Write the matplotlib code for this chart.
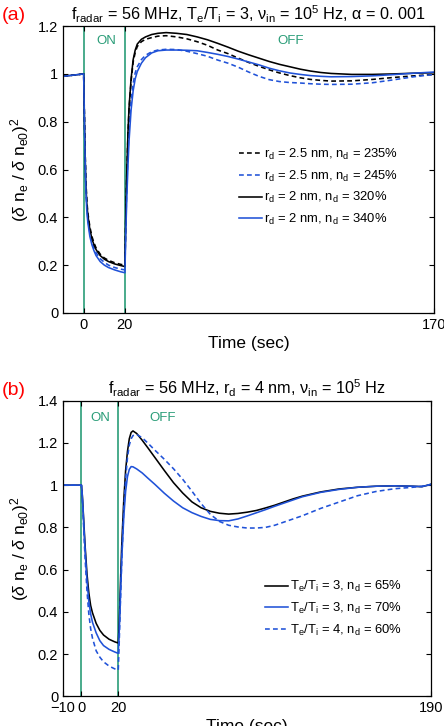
import matplotlib
matplotlib.use("Agg")
import matplotlib.pyplot as plt

plt.rcParams["font.family"] = ["Liberation Sans", "DejaVu Sans"]
plt.rcParams["mathtext.fontset"] = "custom"
plt.rcParams["mathtext.rm"] = "Liberation Sans"
plt.rcParams["mathtext.it"] = "Liberation Sans:italic"

GREEN = "#2a9d78"
BLUE = "#2052d8"

# ---------------------------------------------------------------------------
# Panel (a) data
# ---------------------------------------------------------------------------
t_a = [-10, 0, 0.5, 1, 1.5, 2, 3, 4, 5, 6, 8, 10, 12, 15, 18, 20,
       20.5, 21, 21.5, 22, 23, 24, 25, 26, 28, 30, 33, 36, 40, 45, 50, 55,
       60, 65, 70, 75, 80, 85, 90, 95, 100, 105, 110, 115, 120, 130, 140,
       150, 160, 170]

a_black_dash = [0.99, 1.0, 0.76, 0.57, 0.475, 0.42, 0.36, 0.32, 0.293, 0.272,
                0.246, 0.23, 0.22, 0.21, 0.203, 0.2,
                0.44, 0.61, 0.75, 0.85, 0.97, 1.05, 1.09, 1.115, 1.135, 1.145,
                1.152, 1.158, 1.16, 1.155, 1.147, 1.135, 1.12, 1.1, 1.085,
                1.066, 1.048, 1.032, 1.017, 1.004, 0.993, 0.984, 0.977, 0.973,
                0.97, 0.971, 0.977, 0.985, 0.992, 0.998]

a_blue_dash = [0.99, 1.0, 0.745, 0.55, 0.45, 0.395, 0.335, 0.298, 0.272, 0.252,
               0.227, 0.212, 0.2, 0.19, 0.183, 0.18,
               0.40, 0.55, 0.67, 0.77, 0.89, 0.96, 1.005, 1.03, 1.06, 1.078,
               1.093, 1.1, 1.103, 1.102, 1.095, 1.085, 1.074, 1.058, 1.045,
               1.028, 1.008, 0.99, 0.976, 0.968, 0.964, 0.962, 0.959, 0.957,
               0.956, 0.957, 0.963, 0.975, 0.988, 0.998]

a_black = [0.99, 1.0, 0.75, 0.55, 0.46, 0.41, 0.35, 0.31, 0.285, 0.265,
           0.24, 0.225, 0.215, 0.205, 0.198, 0.194,
           0.45, 0.62, 0.76, 0.86, 0.98, 1.06, 1.10, 1.125, 1.145, 1.155,
           1.165, 1.17, 1.173, 1.17, 1.165, 1.155, 1.143, 1.128, 1.112,
           1.095, 1.08, 1.066, 1.052, 1.04, 1.03, 1.02, 1.012, 1.006,
           1.002, 0.998, 0.998, 1.0, 1.003, 1.005]

a_blue = [0.99, 1.0, 0.73, 0.53, 0.43, 0.38, 0.32, 0.285, 0.26, 0.24,
          0.215, 0.2, 0.19, 0.18, 0.172, 0.168,
          0.36, 0.5, 0.62, 0.72, 0.85, 0.93, 0.98, 1.01, 1.045, 1.068,
          1.088, 1.097, 1.1, 1.1, 1.099, 1.097, 1.09, 1.082, 1.073,
          1.062, 1.05, 1.038, 1.024, 1.013, 1.004, 0.998, 0.993, 0.99,
          0.988, 0.989, 0.992, 0.997, 1.003, 1.008]

# ---------------------------------------------------------------------------
# Panel (b) data
# ---------------------------------------------------------------------------
t_b = [-10, 0, 0.5, 1, 1.5, 2, 3, 4, 5, 6, 8, 10, 12, 15, 18, 20,
       20.5, 21, 21.5, 22, 23, 24, 25, 26, 27, 28, 30, 33, 36, 40, 45, 50,
       55, 60, 65, 70, 75, 80, 85, 90, 95, 100, 105, 110, 115, 120, 130,
       140, 150, 160, 170, 180, 185, 190]

b_black = [1.0, 1.0, 0.95, 0.87, 0.79, 0.71, 0.58, 0.49, 0.43, 0.395,
           0.345, 0.312, 0.29, 0.27, 0.258, 0.252,
           0.34, 0.48, 0.62, 0.74, 0.93, 1.07, 1.16, 1.22, 1.25, 1.257,
           1.245, 1.213, 1.178, 1.13, 1.07, 1.012, 0.963, 0.921, 0.893,
           0.876, 0.867, 0.863, 0.866, 0.872, 0.88, 0.892, 0.905, 0.92,
           0.935, 0.948, 0.968, 0.982, 0.99, 0.995, 0.997, 0.995, 0.993,
           1.004]

b_blue = [1.0, 1.0, 0.94, 0.86, 0.77, 0.69, 0.55, 0.45, 0.39, 0.35,
          0.3, 0.263, 0.24, 0.222, 0.21, 0.203,
          0.3, 0.42, 0.55, 0.67, 0.85, 0.97, 1.04, 1.075, 1.088, 1.087,
          1.077, 1.058, 1.034, 1.003, 0.962, 0.925, 0.893, 0.87, 0.852,
          0.838, 0.832, 0.831, 0.84, 0.854, 0.869, 0.884, 0.9, 0.915,
          0.93, 0.945, 0.966, 0.98, 0.99, 0.995, 0.997, 0.995, 0.993,
          1.004]

b_blue_dash = [1.0, 1.0, 0.93, 0.84, 0.74, 0.65, 0.5, 0.39, 0.32, 0.275,
               0.215, 0.185, 0.163, 0.143, 0.13, 0.124,
               0.25, 0.4, 0.54, 0.67, 0.88, 1.03, 1.13, 1.19, 1.22, 1.235,
               1.24, 1.225, 1.2, 1.165, 1.123, 1.078, 1.028, 0.972, 0.913,
               0.862, 0.828, 0.81, 0.802, 0.797, 0.797, 0.8, 0.81, 0.825,
               0.84, 0.855, 0.89, 0.92, 0.95, 0.97, 0.983, 0.99, 0.995,
               1.004]

heater_edges = [0, 20]

a_labels = [r"r$_\mathrm{d}$ = 2.5 nm, n$_\mathrm{d}$ = 235%",
            r"r$_\mathrm{d}$ = 2.5 nm, n$_\mathrm{d}$ = 245%",
            r"r$_\mathrm{d}$ = 2 nm, n$_\mathrm{d}$ = 320%",
            r"r$_\mathrm{d}$ = 2 nm, n$_\mathrm{d}$ = 340%"]
b_labels = [r"T$_\mathrm{e}$/T$_\mathrm{i}$ = 3, n$_\mathrm{d}$ = 65%",
            r"T$_\mathrm{e}$/T$_\mathrm{i}$ = 3, n$_\mathrm{d}$ = 70%",
            r"T$_\mathrm{e}$/T$_\mathrm{i}$ = 4, n$_\mathrm{d}$ = 60%"]

ylabel = r"($\delta$ n$_\mathrm{e}$ / $\delta$ n$_\mathrm{e0}$)$^2$"


def _style(ax):
    ax.tick_params(direction="in", top=True, right=True, labelsize=10.5,
                   length=3.5, width=0.8)
    for s in ax.spines.values():
        s.set_linewidth(0.9)
    ax.set_xlabel("Time (sec)", fontsize=12.5, labelpad=3)
    ax.set_ylabel(ylabel, fontsize=12.5, labelpad=5)


def _legend(ax, anchor):
    ax.legend(loc="upper left", bbox_to_anchor=anchor, frameon=False,
              fontsize=9.4, handlelength=1.7, handletextpad=0.15,
              labelspacing=0.5, borderpad=0, borderaxespad=0)


fig = plt.figure(figsize=(4.44, 7.26), dpi=100)

# ── (a) ──────────────────────────────────────────────────────────────
ax1 = fig.add_axes([0.142, 0.569, 0.836, 0.395])
for e in heater_edges:
    ax1.axvline(e, color=GREEN, lw=1.2, zorder=1)
ax1.plot(t_a, a_black_dash, "--", color="black", lw=1.15, label=a_labels[0], dashes=(3, 2))
ax1.plot(t_a, a_blue_dash, "--", color=BLUE, lw=1.15, label=a_labels[1], dashes=(3, 2))
ax1.plot(t_a, a_black, "-", color="black", lw=1.15, label=a_labels[2])
ax1.plot(t_a, a_blue, "-", color=BLUE, lw=1.15, label=a_labels[3])
ax1.set_xlim(-10, 170)
ax1.set_ylim(0, 1.2)
ax1.set_xticks([0, 20, 170])
ax1.set_yticks([0, 0.2, 0.4, 0.6, 0.8, 1.0, 1.2])
ax1.set_yticklabels(["0", "0.2", "0.4", "0.6", "0.8", "1", "1.2"])
ax1.text(11, 1.136, "ON", color=GREEN, fontsize=9.5, ha="center", va="center")
ax1.text(100.5, 1.136, "OFF", color=GREEN, fontsize=9.5, ha="center", va="center")
ax1.set_title(r"f$_\mathrm{radar}$ = 56 MHz, T$_\mathrm{e}$/T$_\mathrm{i}$ = 3, "
              r"ν$_\mathrm{in}$ = 10$^5$ Hz, α = 0. 001", fontsize=11.7, pad=4)
_legend(ax1, (0.475, 0.579))
_style(ax1)
fig.text(0.03, 0.978, "(a)", color="red", fontsize=14, ha="center", va="center")

# ── (b) ──────────────────────────────────────────────────────────────
ax2 = fig.add_axes([0.142, 0.041, 0.829, 0.407])
for e in heater_edges:
    ax2.axvline(e, color=GREEN, lw=1.2, zorder=1)
ax2.plot(t_b, b_black, "-", color="black", lw=1.15, label=b_labels[0])
ax2.plot(t_b, b_blue, "-", color=BLUE, lw=1.15, label=b_labels[1])
ax2.plot(t_b, b_blue_dash, "--", color=BLUE, lw=1.15, label=b_labels[2], dashes=(3, 2))
ax2.set_xlim(-10, 190)
ax2.set_ylim(0, 1.4)
ax2.set_xticks([-10, 0, 20, 190])
ax2.set_xticklabels(["\u221210", "0", "20", "190"])
ax2.set_yticks([0, 0.2, 0.4, 0.6, 0.8, 1.0, 1.2, 1.4])
ax2.set_yticklabels(["0", "0.2", "0.4", "0.6", "0.8", "1", "1.2", "1.4"])
ax2.text(10.4, 1.318, "ON", color=GREEN, fontsize=9.5, ha="center", va="center")
ax2.text(44, 1.318, "OFF", color=GREEN, fontsize=9.5, ha="center", va="center")
ax2.set_title(r"f$_\mathrm{radar}$ = 56 MHz, r$_\mathrm{d}$ = 4 nm, "
              r"ν$_\mathrm{in}$ = 10$^5$ Hz", fontsize=11.7, pad=5)
_legend(ax2, (0.55, 0.396))
_style(ax2)
fig.text(0.03, 0.462, "(b)", color="red", fontsize=14, ha="center", va="center")

fig.savefig("out.png", dpi=100)
